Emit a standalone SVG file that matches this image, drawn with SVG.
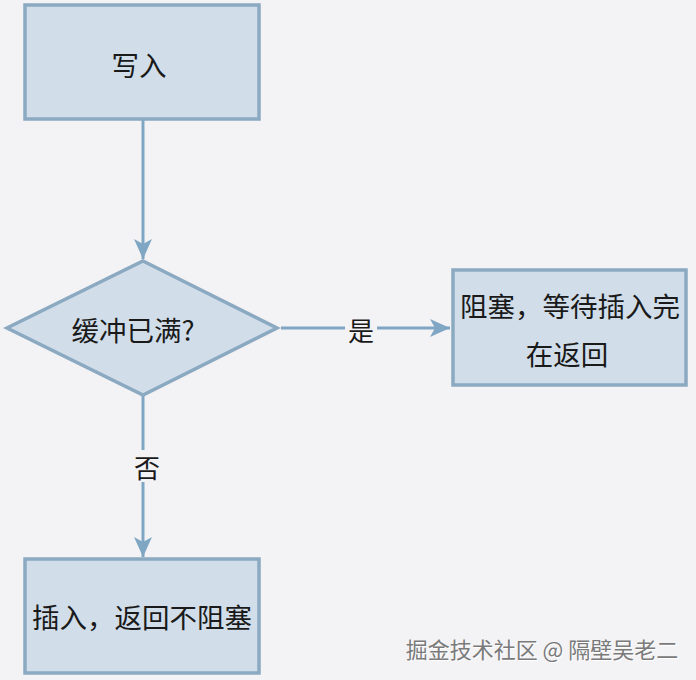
<svg xmlns="http://www.w3.org/2000/svg" width="696" height="680" viewBox="0 0 696 680">
<style>
.box{fill:#d1dee9;stroke:#8ba9c1;stroke-width:3.5}
.t{font-family:"Noto Sans CJK SC","Noto Sans",sans-serif;font-size:27.5px;fill:#1a1a1a;text-anchor:middle;dominant-baseline:central}
.edge{stroke:#7fa6c3;stroke-width:3;fill:none}
.lbl{font-family:"Noto Sans CJK SC",sans-serif;font-size:26px;fill:#1a1a1a;text-anchor:middle;dominant-baseline:central}
</style>
<defs>
<marker id="ah2" markerWidth="22" markerHeight="18" refX="20" refY="9" orient="auto" markerUnits="userSpaceOnUse">
<path d="M0,0 L20,9 L0,18 L5,9 Z" fill="#7fa6c3"/>
</marker>
</defs>
<rect width="696" height="680" fill="#f3f3f6"/>
<g id="connectors">
<path class="edge" d="M143,120 L143,259" marker-end="url(#ah2)"/>
<path class="edge" d="M281,328 L450,328" marker-end="url(#ah2)"/>
<path class="edge" d="M143,396 L143,557" marker-end="url(#ah2)"/>
<rect x="345" y="313" width="32" height="32" fill="#f3f3f6"/>
<text class="lbl" x="361" y="329">是</text>
<rect x="131" y="450" width="32" height="32" fill="#f3f3f6"/>
<text class="lbl" x="147" y="466">否</text>
</g>
<g id="write">
<rect class="box" x="25" y="5" width="234" height="114"/>
<text class="t" x="139" y="64">写入</text>
</g>
<g id="full">
<polygon class="box" points="143,261 277,328 143,395 7,328"/>
<text class="t" x="133" y="329">缓冲已满?</text>
</g>
<g id="block">
<rect class="box" x="453" y="270" width="233" height="115"/>
<text class="t" x="570" y="305">阻塞，等待插入完</text>
<text class="t" x="567" y="353">在返回</text>
</g>
<g id="insert">
<rect class="box" x="25" y="559" width="234" height="114"/>
<text class="t" x="142" y="616">插入，返回不阻塞</text>
</g>
<text x="542" y="648" font-family="Noto Sans CJK SC,sans-serif" font-size="22" fill="#ffffff" text-anchor="middle" dominant-baseline="central" transform="translate(1,1)">掘金技术社区 @ 隔壁吴老二</text>
<text x="542" y="648" font-family="Noto Sans CJK SC,sans-serif" font-size="22" fill="#7a7a7a" text-anchor="middle" dominant-baseline="central">掘金技术社区 @ 隔壁吴老二</text>
</svg>
